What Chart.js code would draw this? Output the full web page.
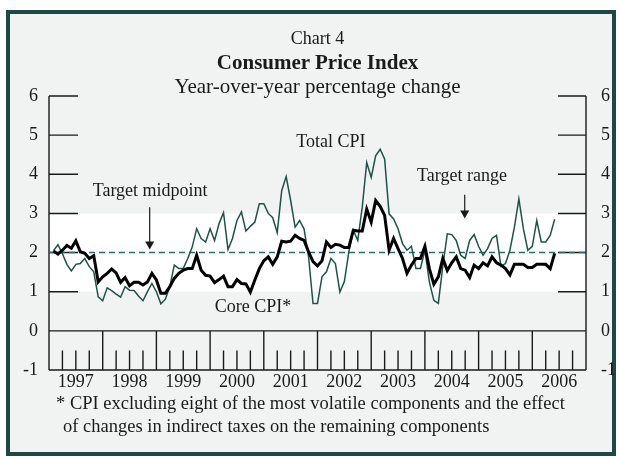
<!DOCTYPE html>
<html>
<head>
<meta charset="utf-8">
<script src="https://cdn.jsdelivr.net/npm/chart.js@4.4.1/dist/chart.umd.min.js"></script>
<style>
  html, body { margin: 0; padding: 0; background: #fff; }
  #wrap {
    position: relative; width: 619px; height: 459px; overflow: hidden;
    font-family: 'Liberation Serif', 'Times New Roman', serif; color: #1a1a1a;
  }
  #panel {
    position: absolute; left: 6px; top: 10px; width: 602px; height: 438px;
    border: 4px solid #1d4843; background: #f1f2f2;
  }
  #chartBox { position: absolute; left: 0; top: 0; width: 619px; height: 459px; }
  .t { position: absolute; left: 49px; width: 537px; text-align: center; white-space: nowrap; }
  #t1 { top: 28px; font-size: 18px; line-height: 20px; }
  #t2 { top: 51px; font-size: 21px; line-height: 22px; font-weight: bold; }
  #t3 { top: 75px; font-size: 21px; line-height: 22px; }
  .note { position: absolute; font-size: 18.5px; line-height: 20px; white-space: nowrap; }
  #n1 { left: 56px; top: 393px; }
  #n2 { left: 63px; top: 416px; }
</style>
</head>
<body>
<div id="wrap">
  <div id="panel"></div>
  <div id="chartBox"><canvas id="cpiChart"></canvas></div>
  <div class="t" id="t1">Chart 4</div>
  <div class="t" id="t2">Consumer Price Index</div>
  <div class="t" id="t3">Year-over-year percentage change</div>
  <div class="note" id="n1">* CPI excluding eight of the most volatile components and the effect</div>
  <div class="note" id="n2">of changes in indirect taxes on the remaining components</div>
</div>
<script>
// monthly, Jan 1997 - May 2006
const years = ['1997', '1998', '1999', '2000', '2001', '2002', '2003', '2004', '2005', '2006'];

const totalCPI = [
  2.05, 2.20, 1.97, 1.70, 1.53, 1.70, 1.72, 1.85, 1.64, 1.51, 0.87, 0.77,
  1.10, 1.03, 0.94, 0.86, 1.13, 1.04, 1.03, 0.89, 0.77, 1.00, 1.21, 1.00,
  0.69, 0.81, 1.13, 1.68, 1.59, 1.59, 1.85, 2.14, 2.61, 2.36, 2.27, 2.61,
  2.31, 2.74, 3.02, 2.08, 2.36, 2.82, 3.04, 2.55, 2.67, 2.78, 3.25, 3.25,
  3.00, 2.89, 2.51, 3.58, 3.94, 3.33, 2.65, 2.82, 2.60, 1.90, 0.70, 0.70,
  1.38, 1.51, 1.85, 1.72, 0.99, 1.26, 2.02, 2.57, 2.31, 3.16, 4.30, 3.92,
  4.47, 4.64, 4.39, 2.99, 2.86, 2.61, 2.23, 2.06, 2.16, 1.59, 1.59, 2.06,
  1.25, 0.78, 0.70, 1.65, 2.48, 2.46, 2.31, 1.93, 1.85, 2.31, 2.46, 2.16,
  1.93, 2.10, 2.36, 2.44, 1.65, 1.72, 2.06, 2.65, 3.37, 2.61, 2.06, 2.16,
  2.82, 2.27, 2.27, 2.44, 2.85
];

const coreCPI = [
  2.04, 1.96, 2.06, 2.18, 2.11, 2.30, 2.02, 1.98, 1.85, 1.92, 1.25, 1.38,
  1.47, 1.58, 1.48, 1.24, 1.36, 1.15, 1.24, 1.24, 1.17, 1.25, 1.47, 1.30,
  0.96, 0.96, 1.13, 1.34, 1.47, 1.55, 1.59, 1.59, 1.93, 1.55, 1.42, 1.40,
  1.23, 1.31, 1.40, 1.13, 1.13, 1.31, 1.21, 1.20, 0.99, 1.30, 1.59, 1.79,
  1.89, 1.70, 1.89, 2.29, 2.27, 2.29, 2.44, 2.36, 2.31, 2.02, 1.77, 1.66,
  1.79, 2.27, 2.13, 2.21, 2.19, 2.13, 2.13, 2.57, 2.55, 2.55, 3.11, 2.78,
  3.33, 3.18, 2.95, 2.06, 2.36, 2.10, 1.85, 1.47, 1.68, 1.85, 1.85, 2.16,
  1.59, 1.19, 1.38, 1.85, 1.54, 1.74, 1.89, 1.59, 1.55, 1.36, 1.68, 1.59,
  1.74, 1.66, 1.89, 1.74, 1.68, 1.59, 1.43, 1.70, 1.70, 1.70, 1.62, 1.62,
  1.70, 1.70, 1.70, 1.59, 1.98
];

const targetRange = [1, 3];
const targetMidpoint = 2;
const yTicks = [-1, 0, 1, 2, 3, 4, 5, 6];

const FONT = "'Liberation Serif', 'Times New Roman', serif";
const INK = '#1a1a1a';
const TEAL = '#1f5249';

// month counter from Jan 1997; a reading is plotted at the end of its month
const toPoints = arr => arr.map((v, i) => ({ x: i + 1, y: v }));

// text labels and arrows inside the plot, in axis units
const notes = [
  { text: 'Target midpoint', x: 22.6, y: 3.57 },
  { text: 'Total CPI', x: 63.0, y: 4.82 },
  { text: 'Core CPI*', x: 45.6, y: 0.61 },
  { text: 'Target range', x: 92.3, y: 3.94 }
];
const arrows = [
  { x: 22.5, from: 3.16, to: 2.08 },
  { x: 92.9, from: 3.48, to: 2.87 }
];

const framePlugin = {
  id: 'frame',
  beforeDatasetsDraw(chart) {
    const { ctx, chartArea: a, scales } = chart;
    const y = scales.y, x = scales.x;
    ctx.save();
    // target band
    const top = y.getPixelForValue(targetRange[1]);
    const bot = y.getPixelForValue(targetRange[0]);
    ctx.fillStyle = '#ffffff';
    ctx.fillRect(a.left, top, a.right - a.left, bot - top);

    ctx.strokeStyle = INK;
    ctx.lineWidth = 1.4;
    const yMax = y.getPixelForValue(yTicks[yTicks.length - 1]);
    const yMin = y.getPixelForValue(yTicks[0]);
    const y0 = y.getPixelForValue(0);
    ctx.beginPath();
    ctx.moveTo(a.left, yMax); ctx.lineTo(a.left, yMin);
    ctx.moveTo(a.right, yMax); ctx.lineTo(a.right, yMin);
    ctx.moveTo(a.left, yMin); ctx.lineTo(a.right, yMin);
    ctx.moveTo(a.left, y0); ctx.lineTo(a.right, y0);
    // short ticks on both vertical axes
    yTicks.filter(v => v >= 0).forEach(v => {
      const py = y.getPixelForValue(v);
      ctx.moveTo(a.left, py); ctx.lineTo(a.left + 29, py);
      ctx.moveTo(a.right - 28, py); ctx.lineTo(a.right, py);
    });
    // year and quarter marks between 0 and -1
    const yHalf = y.getPixelForValue(-0.5);
    for (let m = 3; m < years.length * 12; m += 3) {
      const px = x.getPixelForValue(m);
      ctx.moveTo(px, yMin);
      ctx.lineTo(px, m % 12 === 0 ? y0 : yHalf);
    }
    ctx.stroke();
    ctx.restore();
  },
  afterDatasetsDraw(chart) {
    const { ctx, scales } = chart;
    const y = scales.y, x = scales.x;
    ctx.save();
    ctx.fillStyle = INK;
    ctx.strokeStyle = INK;
    ctx.font = '18px ' + FONT;
    ctx.textAlign = 'center';
    ctx.textBaseline = 'middle';
    notes.forEach(n => ctx.fillText(n.text, x.getPixelForValue(n.x), y.getPixelForValue(n.y)));
    ctx.lineWidth = 1.2;
    arrows.forEach(ar => {
      const px = x.getPixelForValue(ar.x);
      const p1 = y.getPixelForValue(ar.from);
      const p2 = y.getPixelForValue(ar.to);
      ctx.beginPath();
      ctx.moveTo(px, p1); ctx.lineTo(px, p2 - 6);
      ctx.stroke();
      ctx.beginPath();
      ctx.moveTo(px - 4.5, p2 - 8); ctx.lineTo(px + 4.5, p2 - 8); ctx.lineTo(px, p2);
      ctx.closePath();
      ctx.fill();
    });
    ctx.restore();
  }
};

const yAxis = (pos, width, pad) => ({
  type: 'linear',
  position: pos,
  min: yTicks[0],
  max: yTicks[yTicks.length - 1],
  afterBuildTicks: s => { s.ticks = yTicks.map(v => ({ value: v })); },
  afterFit: s => { s.width = width; },
  grid: { display: false, drawTicks: false },
  border: { display: false },
  ticks: { color: INK, padding: pad, font: { family: FONT, size: 18 } }
});

new Chart(document.getElementById('cpiChart'), {
  type: 'line',
  data: {
    datasets: [
      {
        label: 'Core CPI*',
        data: toPoints(coreCPI),
        borderColor: '#000',
        borderWidth: 3,
        pointRadius: 0,
        tension: 0,
        order: 0
      },
      {
        label: 'Total CPI',
        data: toPoints(totalCPI),
        borderColor: TEAL,
        borderWidth: 1.5,
        pointRadius: 0,
        tension: 0,
        order: 1
      },
      {
        label: 'Target midpoint',
        data: [{ x: 0, y: targetMidpoint }, { x: years.length * 12, y: targetMidpoint }],
        borderColor: '#2a6c6c',
        borderWidth: 1.5,
        borderDash: [6, 4],
        pointRadius: 0,
        order: 2
      }
    ]
  },
  options: {
    responsive: true,
    maintainAspectRatio: false,
    animation: false,
    events: [],
    layout: { padding: { left: 0, right: 0, top: 96, bottom: 59 } },
    plugins: { legend: { display: false }, tooltip: { enabled: false } },
    scales: {
      x: {
        type: 'linear',
        min: 0,
        max: years.length * 12,
        afterBuildTicks: s => { s.ticks = years.map((_, i) => ({ value: i * 12 + 6 })); },
        afterFit: s => { s.height = 30; },
        grid: { display: false, drawTicks: false },
        border: { display: false },
        ticks: {
          color: INK, padding: 1, maxRotation: 0, autoSkip: false,
          font: { family: FONT, size: 18 },
          callback: v => years[(v - 6) / 12]
        }
      },
      y: yAxis('left', 49, 11),
      y2: yAxis('right', 33, 15)
    }
  },
  plugins: [framePlugin]
});
</script>
</body>
</html>
